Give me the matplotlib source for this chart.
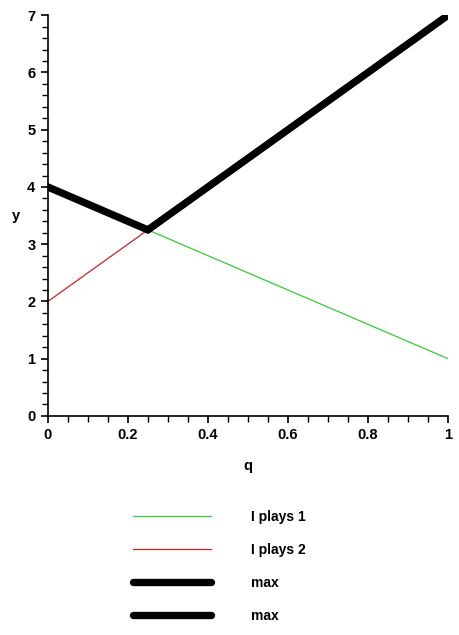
import matplotlib
matplotlib.use("Agg")
import matplotlib.pyplot as plt
from matplotlib.ticker import MultipleLocator

# data: two lines and their upper envelope
q = [0, 1]
plays1 = [4, 1]          # y = 4 - 3q
plays2 = [2, 7]          # y = 2 + 5q
max_q1 = [0, 0.25]
max_y1 = [4, 3.25]
max_q2 = [0.25, 1]
max_y2 = [3.25, 7]
xticks = [0, 0.2, 0.4, 0.6, 0.8, 1]
xtick_labels = ["0", "0.2", "0.4", "0.6", "0.8", "1"]
yticks = [0, 1, 2, 3, 4, 5, 6, 7]

plt.rcParams["font.family"] = ["Liberation Sans", "DejaVu Sans"]
plt.rcParams["font.weight"] = "bold"

fig = plt.figure(figsize=(4.6, 6.35), dpi=100)
ax = fig.add_axes([0.104, 0.345, 0.87, 0.631])

l1, = ax.plot(q, plays1, color="#33cc33", linewidth=0.9, label="I plays 1")
l2, = ax.plot(q, plays2, color="#cc2222", linewidth=0.9, label="I plays 2")
m1, = ax.plot(max_q1, max_y1, color="black", linewidth=5.3, solid_capstyle="round", label="max")
m2, = ax.plot(max_q2, max_y2, color="black", linewidth=5.3, solid_capstyle="round", label="max")

ax.set_xlim(0, 1)
ax.set_ylim(0, 7)
for s in ["top", "right"]:
    ax.spines[s].set_visible(False)
ax.spines["left"].set_linewidth(1.2)
ax.spines["bottom"].set_linewidth(1.2)

ax.set_xticks(xticks, xtick_labels)
ax.set_yticks(yticks)
ax.xaxis.set_minor_locator(MultipleLocator(0.05))
ax.yaxis.set_minor_locator(MultipleLocator(0.2))
ax.tick_params(which="major", length=5, width=1.2, labelsize=10.5, pad=4)
ax.tick_params(which="minor", length=4, width=1.0)

ax.set_xlabel("q", fontsize=10.5, fontweight="bold", labelpad=12)
ax.set_ylabel("y", fontsize=10.5, fontweight="bold", rotation=0, labelpad=8, va="center")

fig.legend(handles=[l1, l2, m1, m2], loc="upper left",
           bbox_to_anchor=(0.262, 0.216), frameon=False, fontsize=10,
           handlelength=5.6, handletextpad=2.9, labelspacing=1.35)

fig.savefig("out.png", dpi=100)
